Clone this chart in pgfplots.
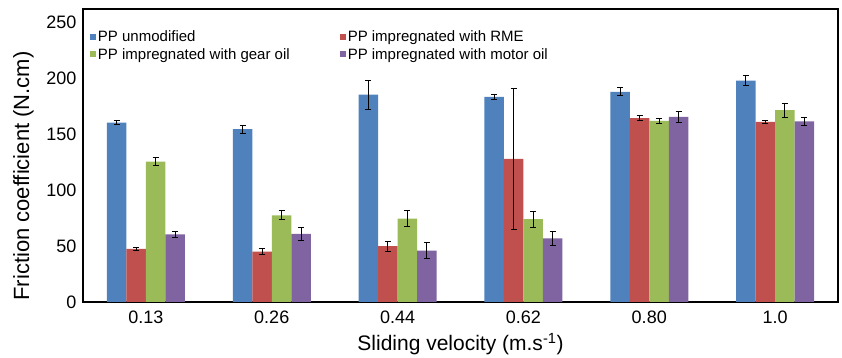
\documentclass[border=0pt]{standalone}
\usepackage{pgfplots}
\pgfplotsset{compat=1.18}
\usepackage{fontspec}
\setmainfont{Liberation Sans}
\definecolor{cblue}{RGB}{79,129,189}
\definecolor{cred}{RGB}{192,80,77}
\definecolor{cgreen}{RGB}{155,187,89}
\definecolor{cpurple}{RGB}{128,100,162}
\begin{document}
\begin{tikzpicture}
\useasboundingbox (-83pt,-56pt) rectangle (759pt,302pt);
\begin{axis}[
  scale only axis,
  width=755pt, height=293pt,
  ybar=0pt, bar width=19.5pt,
  xmin=-0.5, xmax=5.5,
  ymin=0, ymax=262,
  xtick={0,1,2,3,4,5},
  xticklabels={0.13,0.26,0.44,0.62,0.80,1.0},
  ytick={0,50,100,150,200,250},
  major tick length=0pt,
  axis line style={line width=1.5pt},
  /pgf/number format/assume math mode=true,
  tick label style={font=\fontsize{18}{20}\selectfont},
  xticklabel style={yshift=-5pt},
  yticklabel style={xshift=-3pt},
  xlabel={Sliding velocity (m.s\textsuperscript{-1})},
  ylabel={Friction coefficient (N.cm)},
  xlabel style={font=\fontsize{21}{24}\selectfont, yshift=-3pt},
  ylabel style={font=\fontsize{22}{25}\selectfont, at={(ticklabel cs:0.43)}, yshift=6pt},
  legend columns=2,
  legend cell align=left,
  legend style={draw=none, fill=none, at={(0.005,0.94)}, anchor=north west,
    font=\fontsize{15}{17}\selectfont, row sep=1pt,
    /tikz/every even column/.append style={column sep=48pt}},
  legend image code/.code={\fill[#1] (0pt,-3pt) rectangle (6pt,3pt);},
  error bars/y dir=both, error bars/y explicit,
  error bars/error bar style={black, line width=0.8pt},
  error bars/error mark options={rotate=90, mark size=3pt, black, line width=0.8pt},
]
\addplot[fill=cblue, draw=none] coordinates {
  (0,160.5) +- (0,2) (1,154.5) +- (0,3.5) (2,185.5) +- (0,13) (3,183.5) +- (0,2.5) (4,188) +- (0,3.5) (5,198) +- (0,4.5)};
\addplot[fill=cred, draw=none] coordinates {
  (0,47.5) +- (0,1.2) (1,45) +- (0,2.5) (2,50) +- (0,4.5) (3,128) +- (0,63) (4,164.5) +- (0,2) (5,161) +- (0,1)};
\addplot[fill=cgreen, draw=none] coordinates {
  (0,125.5) +- (0,3.5) (1,77.5) +- (0,4) (2,74.5) +- (0,7) (3,74) +- (0,7) (4,162) +- (0,2.5) (5,171.5) +- (0,6.5)};
\addplot[fill=cpurple, draw=none] coordinates {
  (0,60.5) +- (0,3) (1,61) +- (0,6) (2,46) +- (0,7) (3,57) +- (0,6) (4,165.5) +- (0,5) (5,161.5) +- (0,4)};
\legend{PP unmodified, PP impregnated with RME, PP impregnated with gear oil, PP impregnated with motor oil}
\end{axis}
\end{tikzpicture}
\end{document}
